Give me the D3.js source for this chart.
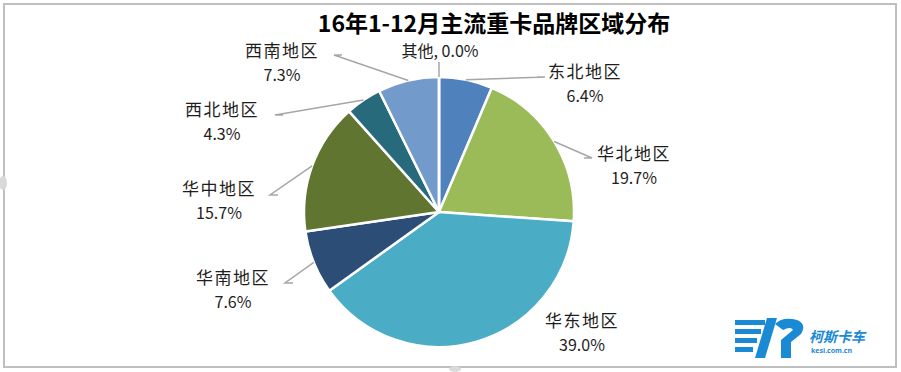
<!DOCTYPE html>
<html>
<head>
<meta charset="utf-8">
<script src="https://cdn.jsdelivr.net/npm/d3@7"></script>
<style>
  html, body { margin: 0; padding: 0; background: #fff; }
  svg { display: block; }
  .lbl { font-family: "Noto Sans CJK SC", "Noto Sans", sans-serif; fill: #1e1e1e; }
</style>
</head>
<body>
<svg id="chart" width="901" height="372"></svg>
<script>
// data
const regions = ['东北地区', '华北地区', '华东地区', '华南地区', '华中地区', '西北地区', '西南地区', '其他'];
const shares = [6.4, 19.7, 39.0, 7.6, 15.7, 4.3, 7.3, 0.0];
const sliceColors = ['#4f81bd', '#9bbb59', '#4bacc6', '#2c4d75', '#5f7530', '#276a7c', '#729aca', '#b9cde5'];
const titleText = '16年1-12月主流重卡品牌区域分布';

// label layout, relative to pie centre: [label dx, label dy, leader end dx, leader end dy, single line?]
const labelLayout = [
  [146, -134, 106, -135, false],
  [195, -52, 153, -54, false],
  [143, 115, null, null, false],
  [-206, 72, -154, 71, false],
  [-220, -17, -169, -17, false],
  [-217, -96, -164, -97, false],
  [-157, -155, -105, -157, false],
  [1, -155, 0, -150, true]
];

const W = 901, H = 372;
const cx = 439, cy = 212, R = 135;

const svg = d3.select('#chart');

// frame
svg.append('rect')
  .attr('x', 4).attr('y', 4).attr('width', W - 9).attr('height', H - 9)
  .attr('fill', '#fff').attr('stroke', '#bfbfbf').attr('stroke-width', 2);
// little grey handle marks on the frame edges
svg.append('ellipse').attr('cx', 3).attr('cy', 183).attr('rx', 4).attr('ry', 7).attr('fill', '#d9d9d9');
svg.append('ellipse').attr('cx', 455).attr('cy', 369).attr('rx', 6).attr('ry', 3).attr('fill', '#d9d9d9');

// title
svg.append('text')
  .attr('class', 'lbl')
  .attr('x', 494).attr('y', 32)
  .attr('text-anchor', 'middle')
  .style('font-size', '23px').style('font-weight', 'bold').style('fill', '#000')
  .text(titleText);

const data = regions.map((r, i) => ({ name: r, value: shares[i], color: sliceColors[i], layout: labelLayout[i] }));

const pie = d3.pie().sort(null).value(d => d.value);
const arcs = pie(data);
const arc = d3.arc().innerRadius(0).outerRadius(R);

const g = svg.append('g').attr('transform', `translate(${cx},${cy})`);

g.selectAll('path.slice').data(arcs).enter().append('path')
  .attr('class', 'slice')
  .attr('d', arc)
  .attr('fill', d => d.data.color)
  .attr('stroke', '#fff')
  .attr('stroke-width', 2.5)
  .attr('stroke-linejoin', 'round');

// leader lines
const edgePoint = (d) => {
  const a = (d.startAngle + d.endAngle) / 2;
  return [R * Math.sin(a), -R * Math.cos(a)];
};
const leaders = arcs.filter(d => d.data.layout[2] !== null);
g.selectAll('polyline.leader').data(leaders).enter().append('polyline')
  .attr('class', 'leader')
  .attr('fill', 'none')
  .attr('stroke', '#a6a6a6')
  .attr('stroke-width', 1.5)
  .attr('points', d => {
    const [ex, ey] = edgePoint(d);
    const L = d.data.layout;
    if (L[4]) return [[ex, ey], [L[2], L[3]]].map(p => p.join(',')).join(' ');
    const side = L[0] < 0 ? 1 : -1;
    const tip = [L[2] + side * 8, L[3]];
    return [[ex, ey], [L[2], L[3]], tip].map(p => p.join(',')).join(' ');
  });

// labels
const fmt = d3.format('.1f');
const lab = g.selectAll('g.label').data(arcs).enter().append('g').attr('class', 'label')
  .attr('transform', d => `translate(${d.data.layout[0]},${d.data.layout[1]})`);

lab.each(function(d) {
  const sel = d3.select(this);
  if (d.data.layout[4]) {
    sel.append('text').attr('class', 'lbl').attr('text-anchor', 'middle')
      .style('font-size', '16px')
      .text(`${d.data.name}, ${fmt(d.data.value)}%`);
  } else {
    sel.append('text').attr('class', 'lbl').attr('text-anchor', 'middle')
      .style('font-size', '17px').style('letter-spacing', '1.5px')
      .text(d.data.name);
    sel.append('text').attr('class', 'lbl').attr('text-anchor', 'middle')
      .attr('y', 24)
      .style('font-size', '16px')
      .text(`${fmt(d.data.value)}%`);
  }
});

// watermark logo, bottom right
const logo = svg.append('g').attr('transform', 'translate(735,318)').attr('fill', '#1a8ad4');
[[0, 2, 30], [0, 11, 26], [0, 20, 22], [0, 29, 18]].forEach(([x, y, w]) => {
  logo.append('rect').attr('x', x).attr('y', y).attr('width', w).attr('height', 5);
});
logo.append('path').attr('d', 'M32,0 L42,0 L30,40 L20,40 Z');
logo.append('path').attr('d', 'M40,6 Q48,-2 62,2 Q72,6 66,16 L56,24 L56,40 L46,40 L46,22 L58,12 Q56,8 48,12 Z');
logo.append('text')
  .attr('x', 74).attr('y', 24)
  .style('font-family', '"Noto Sans CJK SC", sans-serif')
  .style('font-size', '14px').style('font-weight', 'bold').style('font-style', 'italic')
  .text('柯斯卡车');
logo.append('text')
  .attr('x', 76).attr('y', 35)
  .style('font-family', '"Noto Sans", sans-serif')
  .style('font-size', '7px').style('font-weight', 'bold')
  .text('kesi.com.cn');
</script>
</body>
</html>
